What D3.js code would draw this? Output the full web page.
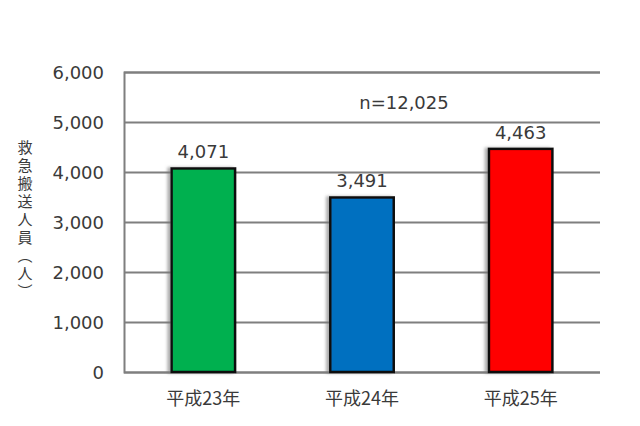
<!DOCTYPE html>
<html>
<head>
<meta charset="utf-8">
<script src="https://cdn.jsdelivr.net/npm/d3@7"></script>
<style>
  body { margin: 0; background: #fff; }
  text { fill: #3a3a3a; }
</style>
</head>
<body>
<svg id="chart" width="640" height="426"></svg>
<script>
// data
var years = ["平成23年", "平成24年", "平成25年"];
var counts = [4071, 3491, 4463];
var barColors = ["#00b050", "#0070c0", "#ff0000"];
var yTicks = [0, 1000, 2000, 3000, 4000, 5000, 6000];
var yLabel = "救急搬送人員（人）";
var totalNote = "n=12,025";

var margin = {top: 72, right: 40, bottom: 54, left: 124};
var width = 640 - margin.left - margin.right,
    height = 426 - margin.top - margin.bottom;

var svg = d3.select("#chart");

// little shadow on the left side of the bars
var defs = svg.append("defs");
var f = defs.append("filter").attr("id", "shadow")
    .attr("x", "-20%").attr("y", "-5%").attr("width", "140%").attr("height", "110%");
f.append("feDropShadow")
    .attr("dx", -3).attr("dy", 0).attr("stdDeviation", 1.5)
    .attr("flood-color", "#777").attr("flood-opacity", 0.6);

var g = svg.append("g")
    .attr("transform", "translate(" + margin.left + "," + margin.top + ")");

var x = d3.scaleBand().domain(years).range([0, width]).paddingInner(0.6).paddingOuter(0.3);
var y = d3.scaleLinear().domain([0, 6000]).range([height, 0]);

// gridlines + left axis
var yAxis = d3.axisLeft(y)
    .tickValues(yTicks)
    .tickSize(-width)
    .tickPadding(20)
    .tickFormat(d3.format(","));

var ya = g.append("g").call(yAxis);
ya.select(".domain").attr("stroke", "#7f7f7f").attr("stroke-width", 2);
ya.selectAll(".tick line").attr("stroke", "#7f7f7f").attr("stroke-width", 2);
ya.selectAll(".tick text")
    .attr("font-family", "DejaVu Sans, sans-serif")
    .attr("font-size", 18)
    .attr("fill", "#3a3a3a")
    .attr("dy", "0.36em");

// bars
g.selectAll(".bar")
    .data(counts)
    .enter().append("rect")
    .attr("class", "bar")
    .attr("x", function(d, i) { return x(years[i]); })
    .attr("y", function(d) { return y(d); })
    .attr("width", x.bandwidth())
    .attr("height", function(d) { return height - y(d); })
    .attr("fill", function(d, i) { return barColors[i]; })
    .attr("stroke", "#111")
    .attr("stroke-width", 2.5)
    .attr("filter", "url(#shadow)");

// value labels
g.selectAll(".val")
    .data(counts)
    .enter().append("text")
    .attr("class", "val")
    .attr("x", function(d, i) { return x(years[i]) + x.bandwidth() / 2; })
    .attr("y", function(d) { return y(d) - 10; })
    .attr("text-anchor", "middle")
    .attr("font-family", "DejaVu Sans, sans-serif")
    .attr("font-size", 18)
    .text(d3.format(","));

// category labels
g.selectAll(".cat")
    .data(years)
    .enter().append("text")
    .attr("class", "cat")
    .attr("x", function(d) { return x(d) + x.bandwidth() / 2; })
    .attr("y", height + 33)
    .attr("text-anchor", "middle")
    .attr("font-family", "Noto Sans CJK JP, sans-serif")
    .attr("font-size", 18)
    .text(function(d) { return d; });

// n= note, a bit right of the middle bar
g.append("text")
    .attr("x", x(years[1]) + x.bandwidth() / 2 + 42)
    .attr("y", y(5000) - 13)
    .attr("text-anchor", "middle")
    .attr("font-family", "DejaVu Sans, sans-serif")
    .attr("font-size", 18)
    .text(totalNote);

// vertical y label
svg.append("text")
    .attr("x", 25)
    .attr("y", 140)
    .attr("font-family", "Noto Sans CJK JP, sans-serif")
    .attr("font-size", 15)
    .style("writing-mode", "vertical-rl")
    .style("letter-spacing", "3px")
    .text(yLabel);
</script>
</body>
</html>
